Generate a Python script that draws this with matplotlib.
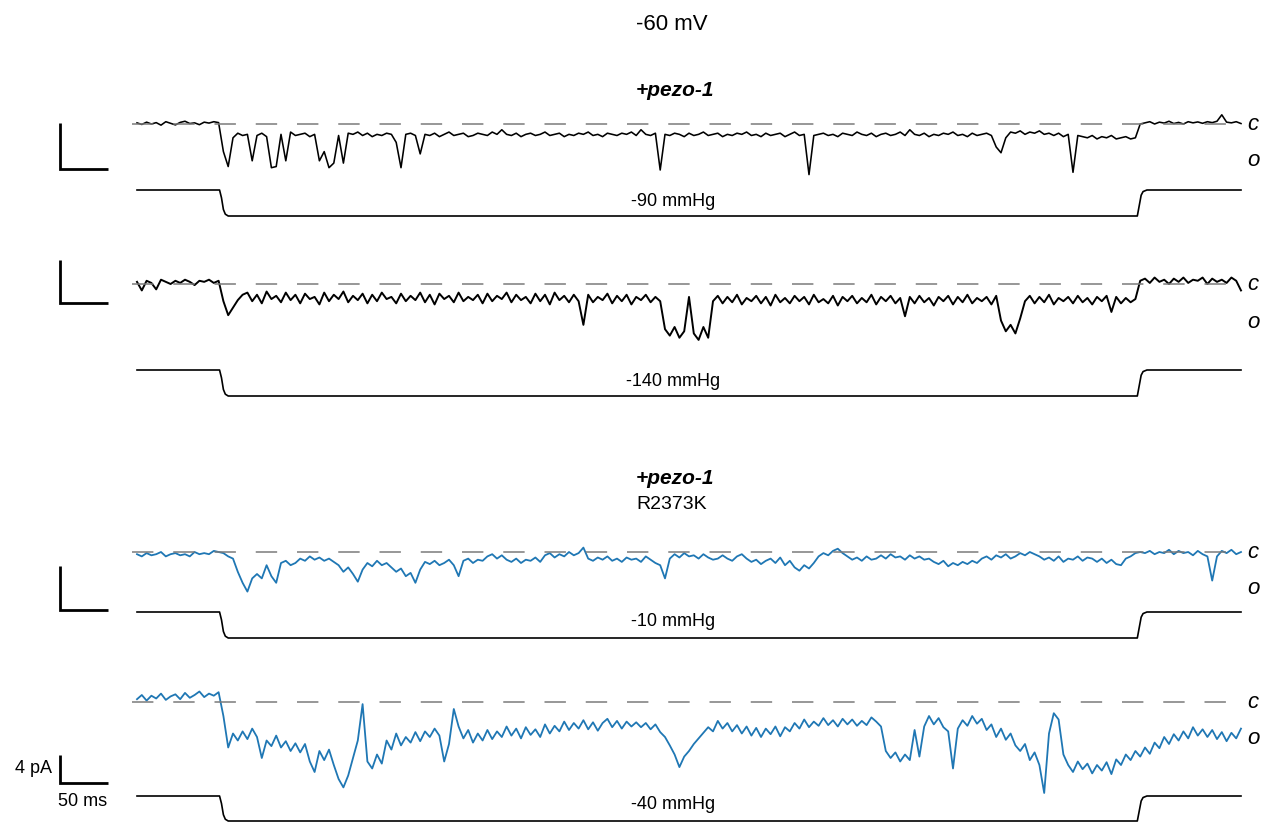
import matplotlib.pyplot as plt
import numpy as np

plt.rcParams['font.family'] = ['Liberation Sans', 'DejaVu Sans']

DT = 5.0

# single-channel current traces, pA (0 = closed level)
wt_90 = [0.05, -0.02, 0.08, 0.0, 0.06, -0.05, 0.1, 0.03, -0.04, 0.07, 0.12, 0.02, 0.05, -0.03, 0.08, 0.04, 0.1, 0.06,
         -1.2, -1.85, -0.6, -0.4, -0.5, -0.45, -1.6, -0.5, -0.4, -0.55, -1.9, -1.85, -0.45, -1.6, -0.35, -0.5, -0.45,
         -0.4, -0.55, -0.45, -1.6, -1.2, -1.9, -1.7, -0.5, -1.7, -0.4,
         -0.45, -0.35, -0.5, -0.4, -0.55, -0.45, -0.5, -0.4, -0.45,
         -0.8, -1.9, -0.45, -0.4, -0.5, -1.3, -0.45,
         -0.5, -0.4, -0.55, -0.45, -0.35, -0.5, -0.45, -0.4, -0.55, -0.5, -0.4, -0.45, -0.5, -0.35, -0.45, -0.25,
         -0.45, -0.5, -0.4, -0.55, -0.45, -0.4, -0.5, -0.45, -0.35, -0.5, -0.45, -0.4, -0.55, -0.45, -0.5, -0.4,
         -0.45, -0.35, -0.5, -0.45, -0.55, -0.4, -0.45, -0.5, -0.4, -0.45, -0.35, -0.5, -0.25, -0.45, -0.5, -0.4,
         -2.0, -0.45,
         -0.5, -0.4, -0.45, -0.55, -0.4, -0.5, -0.45, -0.35, -0.5, -0.45, -0.4, -0.55, -0.45, -0.5, -0.4, -0.45,
         -0.35, -0.5, -0.45, -0.55, -0.4, -0.5, -0.45, -0.4, -0.55, -0.45, -0.35, -0.5, -0.45,
         -2.2, -0.5,
         -0.45, -0.4, -0.5, -0.45, -0.55, -0.4, -0.45, -0.5, -0.35, -0.45, -0.5, -0.4, -0.55, -0.45, -0.4, -0.5,
         -0.45, -0.35, -0.5, -0.25, -0.45, -0.5, -0.4, -0.55, -0.45, -0.5, -0.4, -0.45, -0.35, -0.5, -0.45, -0.55,
         -0.4, -0.5, -0.45, -0.4, -0.5,
         -1.0, -1.25, -0.6,
         -0.35, -0.4, -0.3, -0.45, -0.35, -0.4, -0.3, -0.45, -0.4, -0.5, -0.4, -0.55, -0.45,
         -2.1, -0.5,
         -0.55, -0.6, -0.5, -0.65, -0.55, -0.6, -0.5, -0.65, -0.6, -0.55, -0.65, -0.6,
         0.0,
         0.05, 0.1, 0.0, 0.08, 0.04, 0.12, 0.02, 0.07, 0.0, 0.1, 0.05, 0.09, 0.03, 0.1, 0.06, 0.12, 0.4, 0.08, 0.05,
         0.1, 0.02]

wt_140 = [0.1, -0.3, 0.15, 0.05, -0.25, 0.2, 0.1, 0.0, 0.15, 0.05, 0.2, 0.1, -0.05, 0.15, 0.1, 0.2, 0.05, 0.15,
          -0.8, -1.45, -1.1, -0.75, -0.5,
          -0.4, -0.8, -0.5, -0.9, -0.35, -0.7, -0.55, -0.85, -0.4, -0.75,
          -0.5, -0.9, -0.45, -0.7, -0.6, -0.95, -0.4, -0.8, -0.5, -0.7,
          -0.35, -0.85, -0.55, -0.75, -0.45, -0.9, -0.5, -0.8, -0.4, -0.7,
          -0.6, -0.9, -0.45, -0.8, -0.55, -0.75, -0.4, -0.85, -0.5, -0.95,
          -0.45, -0.7, -0.55, -0.85, -0.4, -0.8, -0.6, -0.75, -0.5, -0.9,
          -0.45, -0.8, -0.55, -0.7, -0.4, -0.85, -0.5, -0.75, -0.6, -0.9,
          -0.45, -0.8, -0.5, -0.95, -0.4, -0.75, -0.55, -0.85, -0.5, -0.8,
          -1.9,
          -0.5, -0.85, -0.6, -0.75, -0.45, -0.9, -0.55, -0.8, -0.5, -0.95, -0.6, -0.75, -0.5, -0.85, -0.6, -0.8,
          -2.1, -2.4, -2.0, -2.5, -2.2, -0.6, -2.3, -2.6, -2.0, -2.5, -0.8,
          -0.55, -0.9, -0.6, -0.85, -0.5, -0.95, -0.65, -0.8, -0.55, -0.9,
          -0.6, -1.0, -0.5, -0.85, -0.65, -0.9, -0.55, -0.8, -0.6, -0.95,
          -0.5, -0.85, -0.7, -0.9, -0.55, -1.0, -0.6, -0.8, -0.55, -0.9,
          -0.65, -0.85, -0.5, -0.95, -0.6, -0.8, -0.55, -0.9, -0.65,
          -1.5,
          -0.6, -0.9, -0.55, -0.85, -0.65, -1.0, -0.6, -0.8, -0.55, -0.95, -0.6, -0.85, -0.5, -0.9, -0.65, -0.8,
          -0.6, -0.95, -0.55,
          -1.7, -2.2, -1.9, -2.3, -1.6, -0.8,
          -0.55, -0.9, -0.6, -0.85, -0.5, -0.95, -0.65, -0.8, -0.6, -0.9, -0.55, -0.85, -0.65, -0.95, -0.6, -0.8,
          -0.55,
          -1.3,
          -0.6, -0.9, -0.65, -0.85, -0.7,
          0.15,
          0.25, 0.05, 0.3, 0.1, 0.2, 0.0, 0.25, 0.1, 0.3, 0.05, 0.2, 0.15, 0.3, 0.0, 0.25, 0.1, 0.2, 0.05, 0.3, 0.15,
          -0.3]

rk_10 = [-0.1, -0.2, -0.05, -0.15, -0.1, 0.0, -0.2, -0.1, -0.05, -0.15, -0.1, -0.2, 0.0, -0.1, -0.05, -0.1, 0.05, 0.0,
         -0.05, -0.2, -0.3, -0.9, -1.4, -1.8, -1.2, -1.0, -1.2, -0.6, -1.1, -1.4,
         -0.5, -0.4, -0.6, -0.5, -0.3, -0.4, -0.2, -0.35, -0.25, -0.4,
         -0.3, -0.45, -0.6, -0.9, -0.7, -1.0, -1.35, -0.8, -0.5, -0.65,
         -0.4, -0.6, -0.5, -0.7, -0.9, -0.75, -1.1, -0.95, -1.4, -0.8,
         -0.45, -0.55, -0.4, -0.6, -0.5, -0.35, -0.6, -1.1, -0.4, -0.3,
         -0.5, -0.35, -0.4, -0.2, -0.1, -0.3, -0.15, -0.35, -0.45, -0.3,
         -0.5, -0.35, -0.4, -0.25, -0.45, -0.15, -0.05, -0.25, -0.1, -0.2,
         0.0, -0.15, -0.05, 0.2, -0.3, -0.4, -0.25, -0.35, -0.2, -0.4,
         -0.3, -0.45, -0.25, -0.35, -0.3, -0.45, -0.2, -0.35, -0.5, -0.6,
         -1.2, -0.3, -0.1, -0.25, -0.05, -0.2, -0.15, -0.3, -0.1, -0.25,
         -0.35, -0.3, -0.15, -0.3, -0.4, -0.2, -0.1, -0.3, -0.45, -0.35,
         -0.55, -0.4, -0.3, -0.5, -0.25, -0.6, -0.4, -0.7, -0.85, -0.6,
         -0.75, -0.5, -0.2, -0.05, -0.15, 0.05, 0.15, -0.05, -0.2, -0.35,
         -0.25, -0.4, -0.2, -0.35, -0.3, -0.15, -0.3, -0.1, -0.25, -0.2,
         -0.35, -0.15, -0.3, -0.2, -0.35, -0.3, -0.45, -0.55, -0.4, -0.65,
         -0.5, -0.6, -0.45, -0.55, -0.4, -0.5, -0.3, -0.2, -0.35, -0.15,
         -0.25, -0.1, -0.3, -0.2, -0.05, -0.15, 0.0, -0.1, -0.2, -0.35,
         -0.25, -0.4, -0.2, -0.45, -0.3, -0.35, -0.2, -0.4, -0.25, -0.3,
         -0.45, -0.3, -0.5, -0.35, -0.55, -0.6, -0.3, -0.2, -0.05, 0.0,
         -0.05, 0.05, -0.1, 0.0, -0.05, 0.1, -0.1, 0.05, -0.05, 0.0, -0.15, 0.05, -0.1, -0.2, -1.3, -0.2, 0.05,
         -0.05, 0.1, -0.1, 0.0]

rk_40 = [0.4, 1.0, 0.2, 0.9, 0.5, 1.2, 0.3, 0.8, 1.1, 0.4, 1.3, 0.6, 1.0, 1.5, 0.7, 1.2, 0.9, 1.4,
         -2.0, -6.5, -4.5, -5.5, -4.2, -5.3, -3.8, -5.0, -8.0, -5.5,
         -6.3, -4.8, -6.5, -5.6, -7.0, -5.9, -7.2, -6.0, -8.5, -10.0,
         -7.0, -8.3, -6.8, -9.0, -11.0, -12.2, -10.5, -8.0, -5.5, -0.3,
         -8.5, -9.5, -7.5, -8.8, -5.5, -6.8, -4.5, -6.2, -5.0, -5.8,
         -4.3, -5.6, -4.2, -5.0, -3.8, -4.8, -8.5, -6.0, -1.0, -3.5,
         -5.2, -4.0, -5.8, -4.5, -5.5, -4.0, -5.3, -4.2, -5.0, -3.5,
         -4.8, -3.8, -5.2, -3.6, -4.7, -3.9, -5.0, -3.2, -4.5, -3.4,
         -4.2, -2.8, -4.0, -3.0, -3.8, -2.6, -3.9, -2.9, -4.1, -3.0,
         -2.4, -3.6, -2.7, -3.8, -2.8, -3.5, -2.9, -3.6, -3.0, -3.9,
         -3.2, -4.3, -5.0, -6.2, -7.5, -9.3, -7.8, -7.0, -6.0, -5.2,
         -4.4, -3.6, -4.2, -2.7, -3.8, -3.0, -4.2, -3.3, -4.5, -3.5,
         -4.8, -3.7, -5.0, -3.8, -4.6, -3.5, -4.9, -3.6, -4.2, -3.0,
         -3.8, -2.5, -3.6, -2.8, -3.4, -2.3, -3.3, -2.6, -3.5, -2.4,
         -3.2, -2.5, -3.4, -2.7, -3.3, -2.2, -2.8, -3.5, -7.0, -8.0,
         -7.2, -8.5, -7.5, -8.3, -4.0, -7.8, -3.5, -2.0, -3.2, -2.3,
         -3.6, -4.2, -9.5, -3.8, -2.6, -3.4, -2.0, -3.1, -2.4, -4.0,
         -3.2, -5.0, -3.8, -5.4, -4.5, -6.2, -7.0, -6.0, -8.3, -7.2,
         -9.0, -13.0, -4.5, -1.6, -2.5, -7.5, -9.0, -10.0, -8.5, -9.6,
         -8.8, -10.2, -9.0, -9.8, -8.6, -10.3, -8.2, -9.0, -7.5, -8.3,
         -7.0, -7.8, -6.5, -7.4, -5.8, -6.6, -5.0, -6.0, -4.6, -5.5,
         -4.2, -5.2, -3.6, -4.8, -3.9, -5.0, -4.0, -5.3, -4.3, -5.6,
         -4.4, -5.2, -3.8]

traces = [wt_90, wt_140, rk_10, rk_40]
colors = ['black', 'black', '#1f77b4', '#1f77b4']
scale_pa = [2, 2, 2, 4]

# pressure steps (mmHg)
pressures = [-90, -140, -10, -40]
pressure_labels = ['-90 mmHg', '-140 mmHg', '-10 mmHg', '-40 mmHg']
# pressure clamp command: time (ms) and fraction of the step reached
cmd_t = [0, 86, 88, 90, 92, 95, 1042, 1044, 1046, 1048, 1052, 1150]
cmd_frac = [0, 0, 0.3, 0.75, 0.93, 1, 1, 0.6, 0.2, 0.06, 0, 0]

# ---- layout (figure pixels) ----
W, H = 1271, 822
PX0, PX_PER_MS = 137, 0.96
base_px = [124, 284, 552, 702]        # closed level
gain = [23, 21.5, 22, 7]              # px per pA
open_px = [160, 322, 588, 738]        # 'o' label
bar_px = [169, 303, 610, 783]         # bottom of scale bar
p_hi = [190, 370, 612, 796]
p_lo = [216, 396, 638, 821]
p_txt = [201, 381, 621, 804]
trace_lw = [1.15, 1.4, 1.3, 1.3]

fig = plt.figure(figsize=(W / 100, H / 100), dpi=100)
xlim = (-PX0 / PX_PER_MS, (W - PX0) / PX_PER_MS)


def overlay(y0, g):
    ax = fig.add_axes([0, 0, 1, 1])
    ax.set_xlim(*xlim)
    ax.set_ylim((y0 - H) / g, y0 / g)
    ax.axis('off')
    ax.patch.set_alpha(0)
    return ax


def px_x(px):
    return (px - PX0) / PX_PER_MS


for i, vals in enumerate(traces):
    ax = overlay(base_px[i], gain[i])
    t = np.arange(len(vals)) * DT
    ax.plot(t, vals, color=colors[i], lw=trace_lw[i], zorder=2)
    ax.hlines(0, t[0] - 5, t[-1], color='#7a7a7a', lw=1.1, linestyles=(0, (14, 13)), zorder=3)
    # scale bar
    yb = (base_px[i] - bar_px[i]) / gain[i]
    sx = px_x(60)
    ax.plot([sx, sx, sx + 50], [yb + scale_pa[i], yb, yb], color='black', lw=2,
            solid_joinstyle='miter', solid_capstyle='butt')
    ax.text(px_x(1247), 0, 'c', style='italic', fontsize=16, va='center', ha='left')
    ax.text(px_x(1247), (base_px[i] - open_px[i]) / gain[i], 'o', style='italic', fontsize=16,
            va='center', ha='left')

    # pressure record
    gp = (p_lo[i] - p_hi[i]) / abs(pressures[i])
    axp = overlay(p_hi[i], gp)
    axp.plot(cmd_t, np.array(cmd_frac) * pressures[i], color='black', lw=1.2)
    axp.text(px_x(673), (p_hi[i] - p_txt[i]) / gp, pressure_labels[i], fontsize=13,
             ha='center', va='center')


def ftext(x, y, s, **kw):
    fig.text(x / W, 1 - y / H, s, ha='center', va='center', **kw)


ftext(672, 24, '-60 mV', fontsize=16)
ftext(675, 91, '+pezo-1', fontsize=15, fontweight='bold', style='italic')
ftext(675, 478, '+pezo-1', fontsize=15, fontweight='bold', style='italic')
ftext(672, 504, 'R2373K', fontsize=14)
fig.text(52 / W, 1 - 768 / H, '4 pA', fontsize=13, ha='right', va='center')
ftext(83, 801, '50 ms', fontsize=13)

fig.savefig('out.png', dpi=100)
